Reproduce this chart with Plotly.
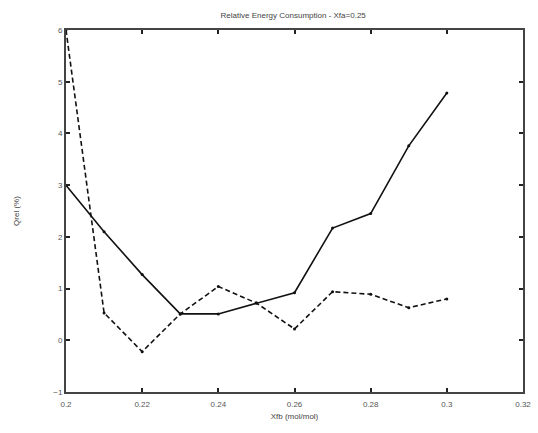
import plotly.graph_objects as go

xfb = [0.20, 0.21, 0.22, 0.23, 0.24, 0.25, 0.26, 0.27, 0.28, 0.29, 0.30]
qrel_solid = [3.0, 2.1, 1.27, 0.51, 0.51, 0.72, 0.92, 2.17, 2.45, 3.76, 4.78]
qrel_dashed = [6.0, 0.53, -0.22, 0.51, 1.04, 0.72, 0.22, 0.94, 0.89, 0.63, 0.80]

x_ticks = [0.2, 0.22, 0.24, 0.26, 0.28, 0.3, 0.32]
x_tick_text = ["0.2", "0.22", "0.24", "0.26", "0.28", "0.3", "0.32"]
y_ticks = [-1, 0, 1, 2, 3, 4, 5, 6]

fig = go.Figure()
fig.add_trace(go.Scatter(x=xfb, y=qrel_solid, mode="lines+markers",
                         line=dict(color="#111", width=1.6),
                         marker=dict(size=3, color="#111"), showlegend=False))
fig.add_trace(go.Scatter(x=xfb, y=qrel_dashed, mode="lines+markers",
                         line=dict(color="#111", width=1.6, dash="5px,3px"),
                         marker=dict(size=3, color="#111"), showlegend=False))

axis_common = dict(showline=True, linecolor="#444", linewidth=2, mirror="allticks",
                   ticks="inside", ticklen=4, tickwidth=1.5, tickcolor="#222",
                   showgrid=False, zeroline=False,
                   tickfont=dict(family="Liberation Sans, Arial", size=8, color="#555"))

fig.update_layout(
    width=538, height=433,
    margin=dict(l=66, r=7, t=30, b=41),
    paper_bgcolor="white", plot_bgcolor="white",
    title=dict(text="Relative Energy Consumption - Xfa=0.25", x=0.545, xanchor="center",
               y=0.965, yanchor="middle",
               font=dict(family="Liberation Sans, Arial", size=8, color="#444")),
    xaxis=dict(range=[0.2, 0.32], tickvals=x_ticks, ticktext=x_tick_text,
               ticklabelstandoff=3,
               title=dict(text="Xfb (mol/mol)", standoff=6,
                          font=dict(family="Liberation Sans, Arial", size=8, color="#444")),
               **axis_common),
    yaxis=dict(range=[-1, 6], tickvals=y_ticks,
               title=dict(text="Qrel (%)", standoff=32,
                          font=dict(family="Liberation Sans, Arial", size=8, color="#444")),
               **axis_common),
)

fig.write_html("out.html")
